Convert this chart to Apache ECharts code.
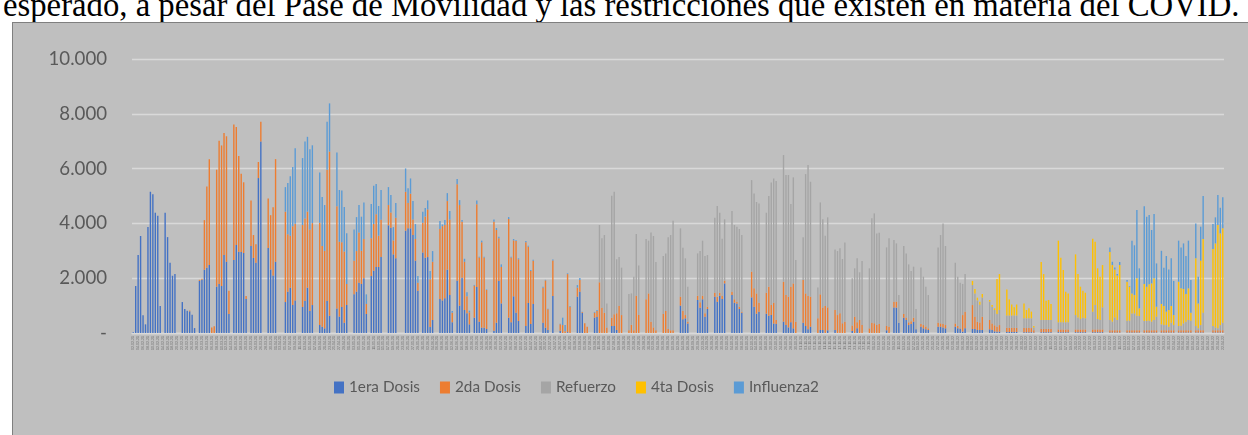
<!DOCTYPE html>
<html>
<head>
<meta charset="utf-8">
<script src="https://cdn.jsdelivr.net/npm/echarts@6/dist/echarts.min.js"></script>
<style>
  html, body { margin: 0; padding: 0; background: #fff; overflow: hidden; }
  #parrafo {
    position: absolute; left: 3px; top: -11px; white-space: nowrap;
    font-family: "Liberation Serif", serif; color: #000; line-height: 1;
  }
  #marco {
    position: absolute; left: 12px; top: 22px; width: 1250px; height: 430px;
    background: #bfbfbf; border-left: 1px solid #7f7f7f; border-top: 1px solid #7f7f7f;
  }
  #chart { position: absolute; left: 0; top: 0; width: 1248px; height: 435px; }
</style>
</head>
<body>
<div id="parrafo">esperado, a pesar del Pase de Movilidad y las restricciones que existen en materia del COVID.</div>
<div id="marco"></div>
<div id="chart"></div>
<script>
// dosis diarias desde el 02-02-2021, una fila por semana (lun..dom), la primera empieza en martes
const primeraDosis = [
  30, 1715, 2845, 3540, 645, 316,
  3870, 5155, 5060, 4390, 4280, 985, 0,
  4390, 3500, 2565, 2090, 2150, 0, 0,
  1130, 875, 815, 790, 670, 180, 0,
  1900, 1940, 2310, 2380, 2480, 0, 0,
  1690, 1790, 1715, 2845, 2600, 690, 0,
  2660, 3210, 2965, 2955, 2920, 1240, 0,
  3175, 2740, 2565, 5655, 6985, 0, 0,
  3100, 2320, 2100, 2600, 0, 0, 0,
  1130, 1510, 1655, 1020, 1190, 0, 0,
  950, 1170, 1655, 800, 1020, 0, 0,
  290, 230, 170, 1170, 630, 0, 0,
  890, 600, 950, 375, 1020, 0, 0,
  1410, 1510, 1835, 1790, 1995, 695, 0,
  2080, 2275, 2410, 2410, 2770, 0, 0,
  3930, 3840, 2870, 2725, 0, 0, 0,
  3735, 3820, 3820, 3575, 2640, 1545, 0,
  2940, 2750, 2770, 220, 475, 0, 0,
  1240, 1190, 1265, 2310, 1385, 390, 0,
  1910, 1000, 2020, 840, 720, 315, 0,
  560, 1680, 415, 195, 195, 145, 0,
  0, 85, 375, 1895, 1080, 0, 0,
  560, 390, 1340, 740, 440, 0, 0,
  255, 1095, 330, 1060, 0, 0, 0,
  375, 195, 110, 0, 1350, 0, 0,
  85, 0, 0, 30, 0, 0, 0,
  1325, 1510, 740, 0, 0, 0, 0,
  560, 585, 0, 0, 0, 0, 0,
  255, 255, 110, 0, 0, 0, 0,
  0, 0, 0, 0, 0, 0, 0,
  0, 0, 0, 0, 0, 0, 0,
  0, 0, 0, 0, 0, 0, 0,
  1000, 500, 535, 350, 0, 0, 0,
  1205, 925, 1230, 595, 875, 0, 0,
  1325, 1145, 1360, 1240, 1810, 0, 0,
  1385, 1105, 1080, 875, 740, 0, 0,
  0, 1300, 960, 705, 780, 0, 0,
  705, 630, 655, 350, 330, 0, 0,
  415, 290, 205, 390, 170, 0, 0,
  0, 375, 255, 135, 230, 0, 0,
  0, 110, 110, 0, 100, 0, 0,
  110, 0, 0, 0, 0, 0, 0,
  70, 0, 170, 0, 0, 0, 0,
  0, 0, 0, 0, 0, 0, 0,
  100, 0, 0, 935, 925, 375, 0,
  560, 475, 290, 330, 415, 135, 0,
  230, 170, 135, 110, 0, 0, 0,
  230, 230, 205, 170, 0, 0, 0,
  230, 170, 150, 50, 170, 0, 0,
  145, 145, 110, 110, 110, 0, 0,
  135, 110, 60, 50, 50, 0, 0,
  40, 40, 40, 40, 40, 0, 0,
  30, 30, 30, 30, 20, 0, 0,
  30, 30, 30, 30, 30, 0, 0,
  30, 30, 30, 30, 30, 0, 0,
  30, 30, 30, 30, 30, 0, 0,
  30, 30, 30, 30, 30, 0, 0,
  20, 20, 20, 20, 20, 0, 0,
  20, 20, 20, 20, 20, 20, 0,
  20, 20, 20, 20, 20, 20, 0,
  20, 20, 20, 20, 20, 20, 0,
  20, 20, 20, 20, 20, 20, 0,
  20, 20, 20, 20, 0, 0, 0,
  20, 20, 20, 20, 20
];

const segundaDosis = [
  0, 0, 0, 0, 0, 0,
  0, 0, 0, 0, 0, 0, 0,
  0, 0, 0, 0, 0, 0, 0,
  0, 0, 0, 30, 0, 0, 0,
  40, 40, 1810, 2970, 3865, 200, 250,
  4270, 5225, 5130, 4455, 4580, 855, 0,
  4950, 4305, 3495, 2855, 2580, 110, 0,
  1665, 835, 670, 585, 725, 0, 0,
  1810, 1980, 2490, 3745, 0, 0, 0,
  3300, 2090, 1895, 2880, 2800, 0, 0,
  2990, 3010, 2775, 2980, 2990, 0, 0,
  3730, 2945, 2830, 4790, 5990, 0, 0,
  3740, 2730, 2360, 2595, 770, 0, 0,
  1230, 1480, 1835, 1210, 1435, 365, 0,
  1375, 1700, 1920, 1140, 1365, 0, 0,
  740, 560, 510, 1480, 0, 0, 0,
  1420, 920, 1265, 570, 790, 290, 0,
  1085, 1505, 1740, 1740, 2125, 0, 0,
  2555, 2710, 2675, 2505, 2760, 350, 0,
  3515, 3670, 2040, 1760, 620, 440, 0,
  1165, 3015, 2345, 3115, 2565, 1425, 0,
  0, 3975, 3385, 1560, 1330, 0, 0,
  3600, 2370, 2040, 2615, 2250, 0, 0,
  3055, 2055, 1930, 1580, 0, 0, 0,
  1280, 1725, 755, 0, 1300, 0, 0,
  230, 290, 60, 2120, 960, 0, 0,
  330, 425, 25, 355, 230, 0, 0,
  180, 215, 1850, 925, 740, 200, 0,
  305, 425, 610, 985, 655, 0, 0,
  100, 300, 100, 1360, 655, 0, 0,
  1230, 1445, 410, 205, 100, 0, 0,
  690, 800, 145, 100, 100, 0, 0,
  325, 300, 120, 60, 0, 0, 0,
  155, 195, 130, 125, 85, 0, 0,
  145, 180, 110, 120, 100, 0, 0,
  125, 125, 65, 85, 35, 0, 0,
  0, 940, 670, 740, 325, 0, 0,
  765, 1060, 365, 755, 145, 0, 0,
  1455, 1095, 1120, 1300, 1640, 415, 0,
  0, 1560, 1190, 1215, 1095, 0, 0,
  535, 1300, 825, 985, 835, 0, 0,
  730, 655, 720, 355, 415, 0, 0,
  200, 595, 220, 475, 290, 0, 0,
  170, 375, 355, 290, 330, 0, 0,
  155, 230, 0, 210, 220, 0, 0,
  135, 95, 100, 100, 145, 0, 0,
  100, 120, 100, 60, 0, 0, 0,
  145, 120, 120, 120, 0, 0, 0,
  120, 90, 20, 605, 610, 0, 0,
  875, 450, 300, 270, 485, 0, 0,
  340, 240, 220, 180, 240, 0, 0,
  150, 150, 150, 150, 150, 0, 0,
  150, 150, 150, 150, 80, 0, 0,
  120, 120, 120, 120, 120, 0, 0,
  100, 100, 100, 100, 100, 0, 0,
  100, 100, 100, 100, 100, 0, 0,
  100, 100, 100, 100, 100, 0, 0,
  80, 80, 80, 80, 80, 0, 0,
  80, 80, 80, 80, 80, 80, 0,
  80, 80, 80, 80, 80, 80, 0,
  80, 80, 80, 80, 80, 80, 0,
  80, 80, 80, 80, 80, 80, 0,
  80, 80, 80, 80, 0, 0, 0,
  80, 80, 80, 80, 80
];

const refuerzo = [
  0, 0, 0, 0, 0, 0,
  0, 0, 0, 0, 0, 0, 0,
  0, 0, 0, 0, 0, 0, 0,
  0, 0, 0, 0, 0, 0, 0,
  0, 0, 0, 0, 0, 0, 0,
  0, 0, 0, 0, 0, 0, 0,
  0, 0, 0, 0, 0, 0, 0,
  0, 0, 0, 0, 0, 0, 0,
  0, 0, 0, 0, 0, 0, 0,
  0, 0, 0, 0, 0, 0, 0,
  0, 0, 0, 0, 0, 0, 0,
  0, 0, 0, 0, 0, 0, 0,
  0, 0, 0, 0, 0, 0, 0,
  0, 0, 0, 0, 0, 0, 0,
  0, 0, 0, 0, 0, 0, 0,
  0, 0, 0, 0, 0, 0, 0,
  0, 0, 0, 0, 0, 0, 0,
  0, 0, 0, 0, 0, 0, 0,
  0, 0, 0, 0, 0, 0, 0,
  0, 0, 0, 0, 0, 0, 0,
  0, 0, 0, 0, 0, 0, 0,
  0, 0, 0, 0, 0, 0, 0,
  0, 0, 0, 0, 0, 0, 0,
  0, 0, 0, 0, 0, 0, 0,
  0, 0, 0, 0, 0, 0, 0,
  0, 0, 0, 0, 0, 0, 0,
  0, 0, 0, 0, 0, 0, 0,
  0, 0, 2090, 2530, 2835, 880, 0,
  4450, 4475, 1970, 1785, 1730, 0, 0,
  1320, 1145, 1955, 2250, 1805, 0, 0,
  2200, 1925, 3260, 3335, 2490, 0, 0,
  2120, 2105, 3345, 3475, 4000, 0, 0,
  2495, 2315, 2070, 1280, 0, 0, 0,
  1545, 1870, 2010, 2090, 1885, 0, 0,
  2740, 3310, 2920, 2080, 2240, 0, 0,
  2940, 2710, 2735, 2835, 2800, 0, 0,
  0, 3340, 3465, 3335, 3625, 0, 0,
  2920, 3310, 4475, 4535, 5070, 0, 0,
  4625, 4380, 4440, 3015, 3870, 2250, 0,
  0, 1555, 4355, 4780, 4195, 0, 0,
  1130, 3355, 3215, 2565, 3285, 0, 0,
  2210, 2335, 2370, 2345, 2885, 0, 0,
  1725, 1765, 2335, 1740, 2335, 0, 0,
  2190, 3810, 4010, 3345, 3330, 0, 0,
  2870, 3225, 0, 2245, 2125, 1010, 0,
  2480, 2335, 2115, 1830, 1860, 740, 0,
  2065, 1765, 1455, 1215, 0, 0, 0,
  2750, 3225, 3675, 2885, 0, 0, 0,
  2215, 1795, 1665, 1135, 1370, 0, 0,
  730, 850, 780, 650, 700, 0, 0,
  670, 610, 560, 460, 550, 0, 0,
  450, 450, 450, 450, 450, 0, 0,
  355, 355, 355, 355, 100, 0, 0,
  325, 325, 325, 325, 325, 0, 0,
  260, 260, 260, 260, 260, 0, 0,
  525, 440, 380, 430, 405, 0, 0,
  650, 890, 380, 345, 805, 0, 0,
  375, 315, 470, 375, 740, 0, 0,
  350, 350, 615, 615, 530, 520, 0,
  340, 340, 350, 315, 375, 495, 0,
  215, 190, 190, 130, 275, 190, 0,
  155, 165, 250, 315, 375, 350, 0,
  155, 70, 190, 640, 0, 0, 0,
  155, 105, 70, 190, 275
];

const cuartaDosis = [
  0, 0, 0, 0, 0, 0,
  0, 0, 0, 0, 0, 0, 0,
  0, 0, 0, 0, 0, 0, 0,
  0, 0, 0, 0, 0, 0, 0,
  0, 0, 0, 0, 0, 0, 0,
  0, 0, 0, 0, 0, 0, 0,
  0, 0, 0, 0, 0, 0, 0,
  0, 0, 0, 0, 0, 0, 0,
  0, 0, 0, 0, 0, 0, 0,
  0, 0, 0, 0, 0, 0, 0,
  0, 0, 0, 0, 0, 0, 0,
  0, 0, 0, 0, 0, 0, 0,
  0, 0, 0, 0, 0, 0, 0,
  0, 0, 0, 0, 0, 0, 0,
  0, 0, 0, 0, 0, 0, 0,
  0, 0, 0, 0, 0, 0, 0,
  0, 0, 0, 0, 0, 0, 0,
  0, 0, 0, 0, 0, 0, 0,
  0, 0, 0, 0, 0, 0, 0,
  0, 0, 0, 0, 0, 0, 0,
  0, 0, 0, 0, 0, 0, 0,
  0, 0, 0, 0, 0, 0, 0,
  0, 0, 0, 0, 0, 0, 0,
  0, 0, 0, 0, 0, 0, 0,
  0, 0, 0, 0, 0, 0, 0,
  0, 0, 0, 0, 0, 0, 0,
  0, 0, 0, 0, 0, 0, 0,
  0, 0, 0, 0, 0, 0, 0,
  0, 0, 0, 0, 0, 0, 0,
  0, 0, 0, 0, 0, 0, 0,
  0, 0, 0, 0, 0, 0, 0,
  0, 0, 0, 0, 0, 0, 0,
  0, 0, 0, 0, 0, 0, 0,
  0, 0, 0, 0, 0, 0, 0,
  0, 0, 0, 0, 0, 0, 0,
  0, 0, 0, 0, 0, 0, 0,
  0, 0, 0, 0, 0, 0, 0,
  0, 0, 0, 0, 0, 0, 0,
  0, 0, 0, 0, 0, 0, 0,
  0, 0, 0, 0, 0, 0, 0,
  0, 0, 0, 0, 0, 0, 0,
  0, 0, 0, 0, 0, 0, 0,
  0, 0, 0, 0, 0, 0, 0,
  0, 0, 0, 0, 0, 0, 0,
  0, 0, 0, 0, 0, 0, 0,
  0, 0, 0, 0, 0, 0, 0,
  0, 0, 0, 0, 0, 0, 0,
  0, 0, 0, 0, 0, 0, 0,
  0, 0, 0, 0, 0, 0, 0,
  150, 160, 100, 115, 125, 0, 0,
  60, 60, 60, 1280, 1310, 0, 0,
  945, 580, 400, 300, 400, 0, 0,
  545, 305, 365, 245, 55, 0, 0,
  2115, 1675, 705, 730, 585, 0, 0,
  2980, 2360, 1910, 1120, 1055, 0, 0,
  2215, 1580, 1180, 985, 935, 0, 0,
  2660, 2310, 1850, 1580, 1545, 0, 0,
  2480, 2065, 1750, 1625, 1640, 0, 0,
  1420, 1240, 730, 670, 1365, 280, 0,
  1350, 1250, 1325, 1395, 1520, 365, 0,
  745, 695, 490, 610, 610, 365, 0,
  1615, 1365, 1255, 1005, 1155, 290, 0,
  2470, 910, 2350, 2690, 0, 0, 0,
  2810, 3065, 3770, 3345, 3445
];

const influenza2 = [
  0, 0, 0, 0, 0, 0,
  0, 0, 0, 0, 0, 0, 0,
  0, 0, 0, 0, 0, 0, 0,
  0, 0, 0, 0, 0, 0, 0,
  0, 0, 0, 0, 0, 0, 0,
  0, 0, 0, 0, 0, 0, 0,
  0, 0, 0, 0, 0, 0, 0,
  0, 0, 0, 0, 0, 0, 0,
  0, 0, 0, 0, 0, 0, 0,
  895, 1870, 2170, 2160, 2750, 0, 0,
  2445, 2805, 2730, 2930, 2840, 0, 0,
  1840, 1785, 1670, 1750, 1760, 0, 0,
  1960, 1890, 1890, 1630, 1850, 0, 0,
  1140, 1240, 1000, 1245, 1335, 350, 0,
  1250, 1400, 1105, 1085, 1080, 0, 0,
  655, 635, 485, 535, 0, 0, 0,
  850, 540, 555, 670, 545, 245, 0,
  400, 305, 330, 300, 390, 0, 0,
  290, 60, 180, 290, 305, 60, 0,
  195, 180, 60, 110, 145, 60, 0,
  30, 145, 25, 60, 25, 20, 0,
  0, 85, 70, 60, 95, 0, 0,
  70, 25, 50, 30, 35, 0, 0,
  45, 35, 40, 35, 0, 0, 0,
  35, 20, 20, 0, 35, 0, 0,
  25, 270, 230, 30, 25, 0, 0,
  95, 70, 15, 0, 0, 0, 0,
  30, 40, 0, 0, 0, 0, 0,
  0, 0, 0, 0, 0, 0, 0,
  0, 0, 0, 0, 0, 0, 0,
  0, 0, 0, 0, 0, 0, 0,
  0, 0, 0, 0, 0, 0, 0,
  0, 0, 0, 0, 0, 0, 0,
  0, 0, 0, 0, 0, 0, 0,
  0, 0, 0, 0, 0, 0, 0,
  0, 0, 0, 0, 0, 0, 0,
  0, 0, 0, 0, 0, 0, 0,
  0, 0, 0, 0, 0, 0, 0,
  0, 0, 0, 0, 0, 0, 0,
  0, 0, 0, 0, 0, 0, 0,
  0, 0, 0, 0, 0, 0, 0,
  0, 0, 0, 0, 0, 0, 0,
  0, 0, 0, 0, 0, 0, 0,
  0, 0, 0, 0, 0, 0, 0,
  0, 0, 0, 0, 0, 0, 0,
  0, 0, 0, 0, 0, 0, 0,
  0, 0, 0, 0, 0, 0, 0,
  0, 0, 0, 0, 0, 0, 0,
  0, 0, 0, 0, 0, 0, 0,
  0, 0, 0, 0, 0, 0, 0,
  0, 0, 0, 0, 0, 0, 0,
  0, 0, 0, 0, 0, 0, 0,
  0, 0, 0, 0, 0, 0, 0,
  0, 0, 0, 0, 0, 0, 0,
  0, 0, 0, 0, 0, 0, 0,
  0, 0, 0, 0, 0, 0, 0,
  0, 0, 0, 0, 0, 0, 0,
  170, 120, 75, 50, 110, 0, 0,
  65, 25, 1925, 1815, 2495, 1460, 0,
  2840, 2555, 2530, 1950, 2345, 1580, 0,
  1940, 1400, 2030, 1480, 1740, 1245, 0,
  1500, 1495, 1665, 1390, 1740, 1195, 0,
  1275, 975, 1240, 1570, 0, 0, 0,
  910, 950, 1095, 935, 1130
];

const nombres = ['1era Dosis', '2da Dosis', 'Refuerzo', '4ta Dosis', 'Influenza2'];
const colores = ['#4472c4', '#ed7d31', '#a5a5a5', '#ffc000', '#5b9bd5'];
const valoresEjeY = [0, 2000, 4000, 6000, 8000, 10000];

// etiquetas de fecha, un dia por categoria
const fechas = [];
const inicio = new Date(2021, 1, 2);
for (let i = 0; i < primeraDosis.length; i++) {
  const d = new Date(inicio.getFullYear(), inicio.getMonth(), inicio.getDate() + i);
  const dd = String(d.getDate()).padStart(2, '0');
  const mm = String(d.getMonth() + 1).padStart(2, '0');
  fechas.push(dd + '-' + mm + '-' + String(d.getFullYear()).slice(2));
}

// tamaño de letra para que el texto ocupe el ancho medido en la imagen
function tamanoPara(texto, familia, ancho) {
  const ctx = document.createElement('canvas').getContext('2d');
  ctx.font = '100px ' + familia;
  return 100 * ancho / ctx.measureText(texto).width;
}

const parrafo = document.getElementById('parrafo');
parrafo.style.fontSize = tamanoPara(parrafo.textContent, '"Liberation Serif"', 1237).toFixed(2) + 'px';

const letraEje = tamanoPara('10.000', 'Lato', 58.5);
const letraLeyenda = tamanoPara('1era Dosis', 'Lato', 71);

const series = [primeraDosis, segundaDosis, refuerzo, cuartaDosis, influenza2].map((datos, k) => ({
  name: nombres[k],
  type: 'bar',
  stack: 'total',
  barWidth: 1.4,
  itemStyle: { color: colores[k] },
  emphasis: { disabled: true },
  data: datos
}));

const chart = echarts.init(document.getElementById('chart'));
chart.setOption({
  animation: false,
  backgroundColor: 'transparent',
  color: colores,
  grid: { left: 132, right: 24, top: 59, bottom: 102 },
  legend: {
    data: nombres,
    left: 329,
    top: 375,
    itemWidth: 10,
    itemHeight: 12,
    itemGap: 20,
    icon: 'rect',
    textStyle: { color: '#595959', fontFamily: 'Lato', fontSize: letraLeyenda }
  },
  xAxis: {
    type: 'category',
    data: fechas,
    axisLine: { lineStyle: { color: '#d9d9d9', width: 1.3 } },
    axisTick: { show: false },
    axisLabel: { interval: 1, rotate: 90, fontSize: 3.5, color: '#6f6f6f', margin: 3 }
  },
  yAxis: {
    type: 'value',
    min: valoresEjeY[0],
    max: valoresEjeY[valoresEjeY.length - 1],
    interval: 2000,
    axisLine: { show: false },
    axisTick: { show: false },
    splitLine: { lineStyle: { color: '#d9d9d9', width: 1.3 } },
    axisLabel: {
      color: '#595959',
      fontFamily: 'Lato',
      fontSize: letraEje,
      margin: 25,
      formatter: v => v === 0 ? '-' : (v / 1000) + '.000'
    }
  },
  series: series
});
</script>
</body>
</html>
